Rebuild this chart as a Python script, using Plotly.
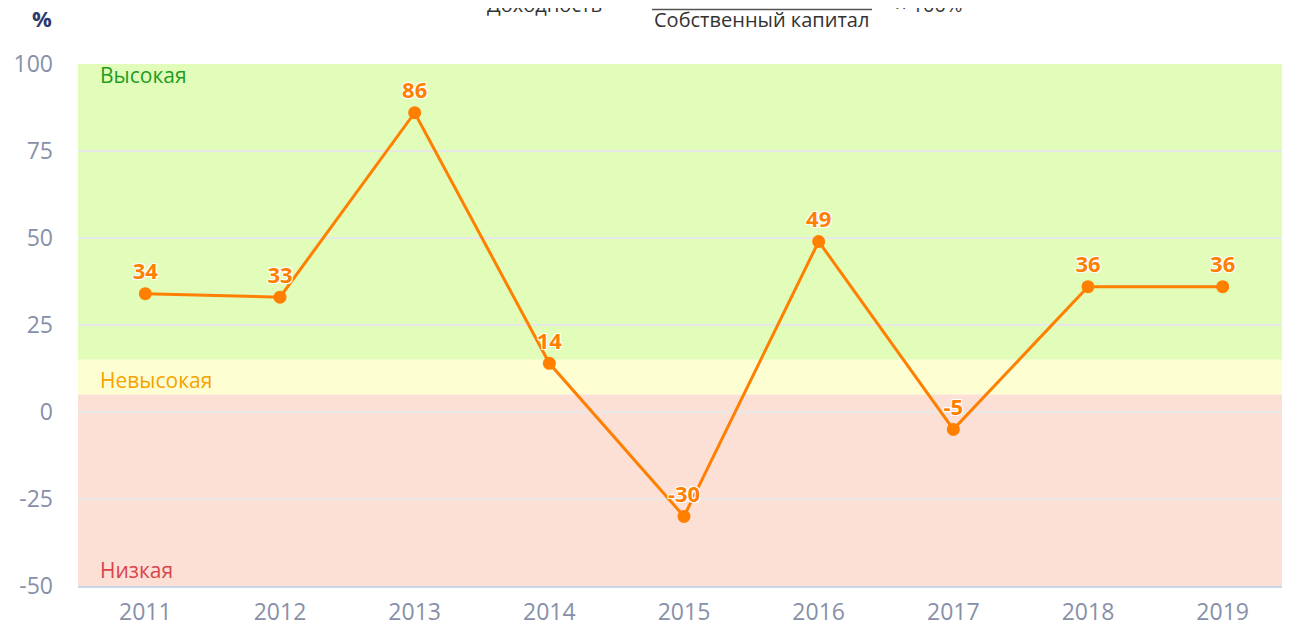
import plotly.graph_objects as go

years = ["2011", "2012", "2013", "2014", "2015", "2016", "2017", "2018", "2019"]
values = [34, 33, 86, 14, -30, 49, -5, 36, 36]
y_ticks = [-50, -25, 0, 25, 50, 75, 100]
y_tick_text = ["-50", "-25", "0", "25", "50", "75", "100"]

bands = [
    (15, 100, "#e2fdb9", "Высокая", "#1e9e1e", 96.8),
    (5, 15, "#fefed3", "Невысокая", "#f5a300", 9.2),
    (-50, 5, "#fde0d5", "Низкая", "#d9454a", -45.4),
]

PW, PH = 1212, 522  # plot area size in px (for paper-coordinate placement)

fig = go.Figure()
fig.add_trace(go.Scatter(
    x=years, y=values, mode="lines+markers+text",
    line=dict(color="#ff7f00", width=3),
    marker=dict(color="#ff7f00", size=13),
    text=[str(v) for v in values],
    textposition="top center",
    textfont=dict(family="Open Sans", size=22, color="#ff7f00", weight="bold",
                  shadow="1px 1px 0 white, -1px -1px 0 white, 1px -1px 0 white, -1px 1px 0 white"),
    cliponaxis=False,
    hoverinfo="skip",
))

shapes = []
annotations = []
for lo, hi, col, name, tcol, ty in bands:
    shapes.append(dict(type="rect", xref="paper", yref="y", x0=0, x1=1, y0=lo, y1=hi,
                       fillcolor=col, line=dict(width=0), layer="below"))
    annotations.append(dict(xref="paper", yref="y", x=0.0165, y=ty, text=name, showarrow=False,
                            xanchor="left", yanchor="middle",
                            font=dict(family="Open Sans", size=21, color=tcol)))

# header
annotations.append(dict(xref="paper", yref="paper", x=-36 / PW, y=1 + 46 / PH, text="<b>%</b>",
                        showarrow=False, xanchor="center", yanchor="middle",
                        font=dict(family="Open Sans", size=22, color="#2d3a6e")))
annotations.append(dict(xref="paper", yref="paper", x=(555 - 78) / PW, y=1 + 59 / PH,
                        text="Доходность  =", showarrow=False, xanchor="center", yanchor="middle",
                        font=dict(family="Open Sans", size=20, color="#333333")))
annotations.append(dict(xref="paper", yref="paper", x=(762 - 78) / PW, y=1 + 44 / PH,
                        text="Собственный капитал", showarrow=False, xanchor="center", yanchor="middle",
                        font=dict(family="Open Sans", size=20, color="#333333")))
annotations.append(dict(xref="paper", yref="paper", x=(762 - 78) / PW, y=1 + 76 / PH,
                        text="Чистая прибыль", showarrow=False, xanchor="center", yanchor="middle",
                        font=dict(family="Open Sans", size=20, color="#333333")))
annotations.append(dict(xref="paper", yref="paper", x=(928 - 78) / PW, y=1 + 59 / PH,
                        text="× 100%", showarrow=False, xanchor="center", yanchor="middle",
                        font=dict(family="Open Sans", size=20, color="#333333")))
shapes.append(dict(type="line", xref="paper", yref="paper",
                   x0=(652 - 78) / PW, x1=(872 - 78) / PW, y0=1 + 54.5 / PH, y1=1 + 54.5 / PH,
                   line=dict(color="#555555", width=1.5)))

fig.update_layout(
    width=1282, height=625,
    margin=dict(l=70, r=0, t=56, b=47),
    paper_bgcolor="white", plot_bgcolor="white",
    showlegend=False,
    shapes=shapes, annotations=annotations,
    xaxis=dict(type="category", range=[-0.5, 8.5], showgrid=False, zeroline=False,
               showline=True, linecolor="#c9d6ea", linewidth=2, automargin=False,
               tickfont=dict(family="Open Sans", size=23, color="#8790a8"),
               ticks="", ticklabelstandoff=4, fixedrange=True),
    yaxis=dict(range=[-50, 100], tickvals=y_ticks, ticktext=y_tick_text, showgrid=True,
               gridcolor="#e8e8e8", gridwidth=1.5, automargin=False,
               zeroline=False, showline=False,
               tickfont=dict(family="Open Sans", size=23, color="#8790a8"),
               ticks="", ticklabelstandoff=24, fixedrange=True),
)

fig.write_html("out.html")
